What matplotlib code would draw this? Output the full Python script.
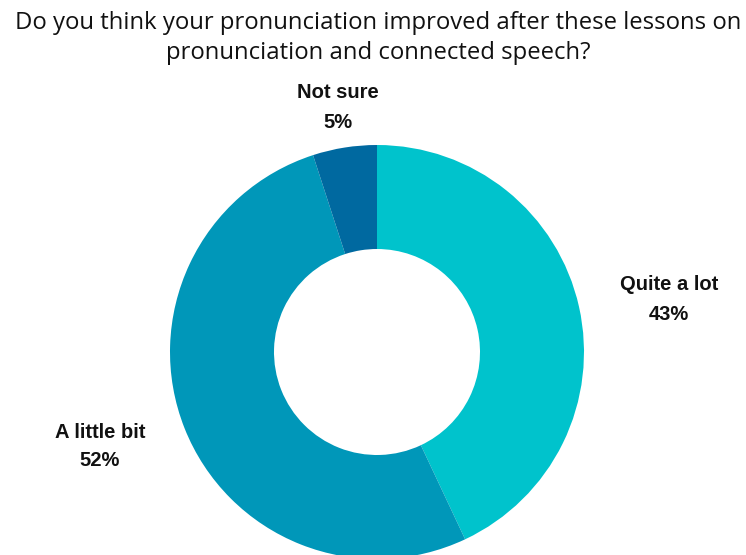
import matplotlib
matplotlib.use("Agg")
import matplotlib.pyplot as plt

categories = ["Quite a lot", "A little bit", "Not sure"]
values = [43, 52, 5]
colors = ["#00C3CC", "#0097B9", "#0069A0"]
title = "Do you think your pronunciation improved after these lessons on\npronunciation and connected speech?"

W, H = 746, 555
fig = plt.figure(figsize=(W / 100, H / 100), dpi=100)
ax = fig.add_axes([0, 0, 1, 1])

cx, cy, r = 377, H - 352, 207
ax.pie(values, colors=colors, startangle=90, counterclock=False,
       center=(cx, cy), radius=r, frame=True,
       wedgeprops=dict(width=104, linewidth=0))
ax.set_xlim(0, W)
ax.set_ylim(0, H)
ax.axis("off")

label_pos = {"Quite a lot": (669, 285), "A little bit": (100, 432), "Not sure": (338, 93)}
for cat, v in zip(categories, values):
    x, y = label_pos[cat]
    ax.text(x, H - y, cat, ha="center", va="center", fontsize=14.5,
            fontweight="bold", family="Liberation Sans", color="#111111")
    ax.text(x, H - y - 29, f"{v}%", ha="center", va="center", fontsize=14.5,
            fontweight="bold", family="Liberation Sans", color="#111111")

ax.text(378, H - 38, title, ha="center", va="center", fontsize=17.2,
        family="Open Sans", color="#111111", linespacing=1.36)

fig.savefig("out.png", dpi=100)
